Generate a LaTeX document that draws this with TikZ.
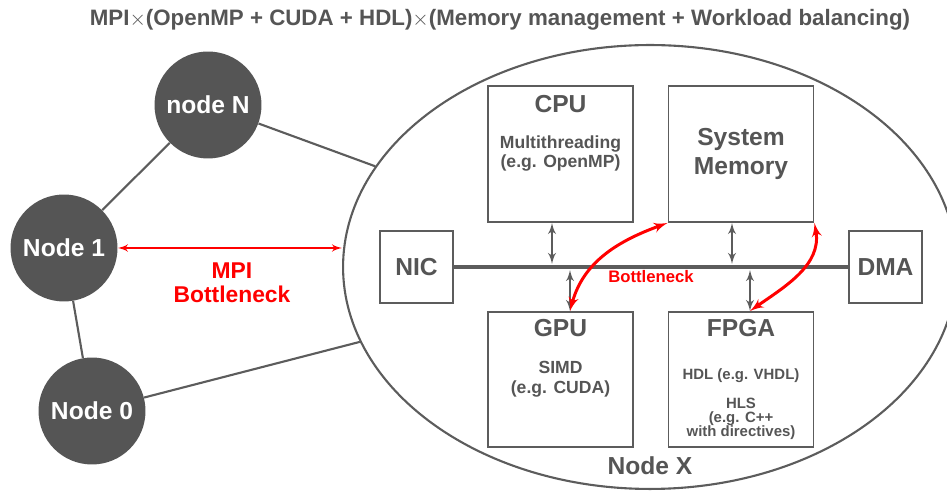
\documentclass[tikz,border=0pt]{standalone}
\usepackage{fontspec}
\setmainfont{Liberation Sans}
\usepackage{tikz}
\usetikzlibrary{arrows}
\usetikzlibrary{shapes.geometric}
\definecolor{textgray}{HTML}{555555}
\definecolor{linegray}{HTML}{5C5C5C}
\tikzstyle{vertex}=[circle,fill=textgray,minimum size=2.14cm,inner sep=0pt,text=white,font=\fontsize{14}{16}\selectfont\bfseries]
\tikzstyle{unit}=[draw=linegray,line width=1.1pt,minimum width=2.9cm,minimum height=2.72cm,inner sep=0pt,text=textgray]
\tikzstyle{port}=[draw=linegray,line width=1.1pt,minimum width=1.46cm,minimum height=1.44cm,inner sep=0pt,text=textgray,font=\fontsize{14}{17}\selectfont\bfseries]
\tikzstyle{edge} = [draw=linegray,line width=1.2pt,-]

\begin{document}
\begin{tikzpicture}
		[x=0.02cm,y=-0.02cm,
		bigtext/.style={text=textgray,inner sep=0pt,font=\fontsize{14}{17}\selectfont\bfseries},
		smalltext/.style={text=textgray,inner sep=0pt,align=center,font=\fontsize{10}{11.3}\selectfont\bfseries},
		tinytext/.style={text=textgray,inner sep=0pt,align=center,font=\fontsize{8.5}{8}\selectfont\bfseries},
		redtext/.style={text=red,inner sep=0pt,align=center,font=\fontsize{13}{13.6}\selectfont\bfseries},
		busarrow/.style={<->,>=latex',draw=linegray,line width=1.2pt},
		redarrow/.style={<->,>=latex',draw=red,line width=1.7pt}]
		\useasboundingbox (0,0) rectangle (947,492);
		
		\node[text=textgray,anchor=base,inner sep=0pt,font=\fontsize{12.7}{14}\selectfont\bfseries] (title) at (500,26)
		{MPI$\times$(OpenMP + CUDA + HDL)$\times$(Memory management + Workload balancing)};
		
		% the cluster
		\node[vertex] (nN) at (208,105) {node N};
		\node[vertex] (n1) at (64,248) {Node 1};
		\node[vertex] (n0) at (92,411) {Node 0};
		\node[ellipse,draw=linegray,line width=1.2pt,minimum width=12.28cm,minimum height=8.88cm,inner sep=0pt] (nX) at (650,267) {};
		
		\draw[edge] (nN) -- (n1);
		\draw[edge] (n1) -- (n0);
		\draw[edge] (nN) -- (nX);
		\draw[edge] (n0) -- (nX);
		
		\draw[<->,>=latex',draw=red,line width=1pt] (n1) -- (n1 -| nX.west);
		\node[redtext] (mpi) at (232,283) {MPI\\Bottleneck};
		
		% inside node X
		\node[unit] (cpu) at (560.5,154) {};
		\node[bigtext,anchor=base] (cpuname) at (560.5,113) {CPU};
		\node[smalltext] (cpuuse) at (560.5,153.5) {Multithreading\\(e.g. OpenMP)};
		\node[unit,font=\fontsize{14}{17}\selectfont\bfseries,align=center] (mem) at (741,154) {System\\Memory};
		\node[port] (nic) at (416.5,267) {NIC};
		\node[port] (dma) at (885.5,267) {DMA};
		\node[unit,minimum height=2.7cm] (gpu) at (560.5,379.5) {};
		\node[bigtext,anchor=base] (gpuname) at (560.5,337) {GPU};
		\node[smalltext] (gpuuse) at (560.5,379.5) {SIMD\\(e.g. CUDA)};
		\node[unit,minimum height=2.7cm] (fpga) at (741,379.5) {};
		\node[bigtext,anchor=base] (fpganame) at (741,337) {FPGA};
		\node[tinytext,anchor=base] (hdl) at (741,380) {HDL (e.g. VHDL)};
		\node[tinytext] (hls) at (741,419) {HLS\\(e.g. C++\\with directives)};
		\node[bigtext,anchor=base] (xname) at (650,475) {Node X};
		
		% bus and its taps
		\draw[draw=linegray,line width=1.8pt] (nic) -- (dma);
		\coordinate (cputap) at (552,264);
		\coordinate (gputap) at (570,270);
		\coordinate (memtap) at (732,264);
		\coordinate (fpgatap) at (750,270);
		\draw[busarrow] (cpu.south -| cputap) -- (cputap);
		\draw[busarrow] (gputap) -- (gpu.north -| gputap);
		\draw[busarrow] (mem.south -| memtap) -- (memtap);
		\draw[busarrow] (fpgatap) -- (fpga.north -| fpgatap);
		
		\draw[redarrow] (gpu.north -| gputap) to[out=75,in=200] (mem.south west);
		\draw[redarrow] (fpga.north -| fpgatap) to[out=35,in=-80] (mem.south east);
		\node[text=red,anchor=base,inner sep=0pt,font=\fontsize{9.5}{11}\selectfont\bfseries] (bneck) at (651,283) {Bottleneck};
		
		\end{tikzpicture}
\end{document}
